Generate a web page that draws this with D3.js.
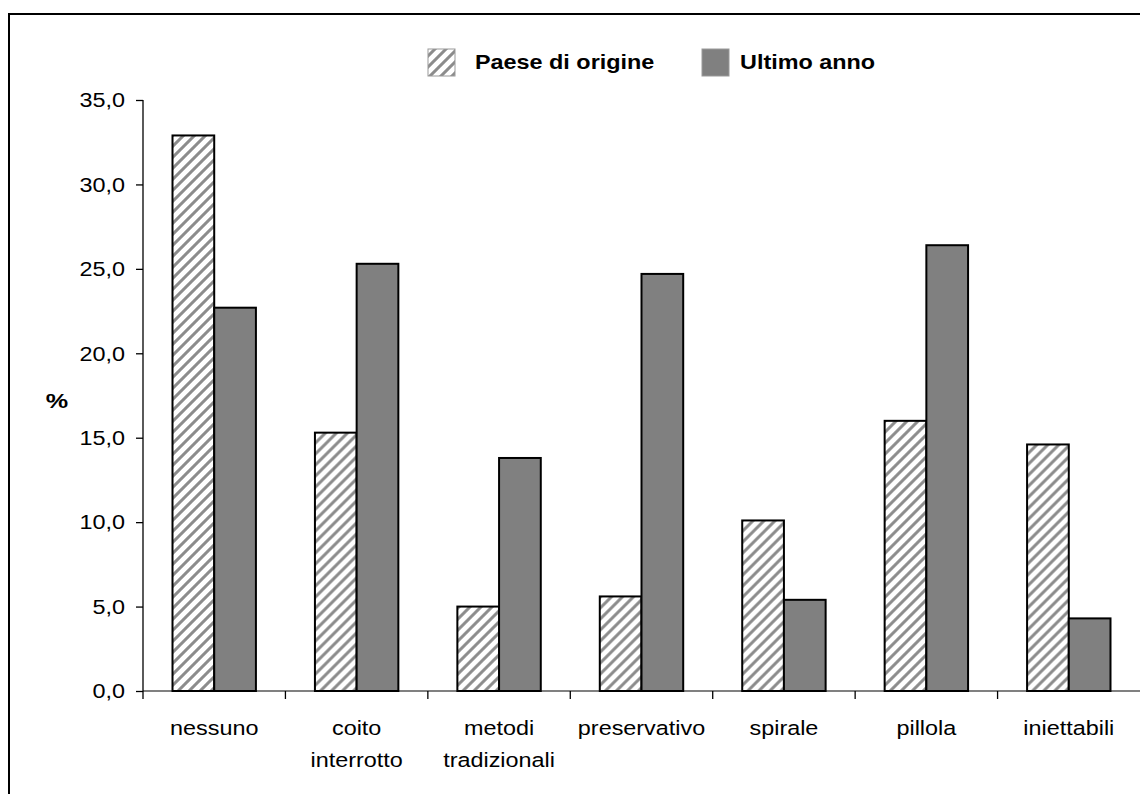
<!DOCTYPE html>
<html>
<head>
<meta charset="utf-8">
<script src="https://cdn.jsdelivr.net/npm/d3@7"></script>
<style>
  html, body { margin: 0; padding: 0; background: #fff; }
  svg { display: block; font-family: Arial, "Liberation Sans", sans-serif; }
</style>
</head>
<body>
<svg id="chart" width="1140" height="794"></svg>
<script>
// Contraccezione: metodo usato nel paese di origine e nell'ultimo anno (%)
const categories = ["nessuno", "coito interrotto", "metodi tradizionali", "preservativo", "spirale", "pillola", "iniettabili"];
const seriesNames = ["Paese di origine", "Ultimo anno"];
const paeseOrigine = [32.9, 15.3, 5.0, 5.6, 10.1, 16.0, 14.6];
const ultimoAnno = [22.7, 25.3, 13.8, 24.7, 5.4, 26.4, 4.3];
const yTicks = [0, 5, 10, 15, 20, 25, 30, 35];

const svg = d3.select("#chart");
const W = 1140, H = 794;
const plotLeft = 143, plotRight = 1140, plotTop = 100, plotBottom = 691;
const SX = 1.2;      // horizontal text stretch
const FS = 19.5;     // font size

const rows = categories.map((c, i) => ({ cat: c, values: [paeseOrigine[i], ultimoAnno[i]] }));

const x0 = d3.scaleBand().domain(categories).range([plotLeft, plotRight]).padding(0);
const x1 = d3.scaleBand().domain(seriesNames).range([0, x0.bandwidth()]).paddingInner(0).paddingOuter(0.7075);
const y = d3.scaleLinear().domain([0, 35]).range([plotBottom, plotTop]);

// hatch pattern (soft grey diagonal stripes)
const defs = svg.append("defs");
defs.append("filter").attr("id", "soft").attr("x", "-20%").attr("y", "-20%").attr("width", "140%").attr("height", "140%")
  .append("feGaussianBlur").attr("stdDeviation", 0.6);
const P = 11;
const pat = defs.append("pattern")
  .attr("id", "hatch").attr("patternUnits", "userSpaceOnUse")
  .attr("width", P).attr("height", P);
pat.append("rect").attr("width", P).attr("height", P).attr("fill", "#fff");
pat.append("path")
  .attr("d", `M${-P/4},${P/4} L${P/4},${-P/4} M0,${P} L${P},0 M${P*0.75},${P*1.25} L${P*1.25},${P*0.75}`)
  .attr("stroke", "#8c8c8c").attr("stroke-width", 3.1).attr("fill", "none")
  .attr("filter", "url(#soft)");
const fills = ["url(#hatch)", "#808080"];

// outer frame
svg.append("rect").attr("x", 9).attr("y", 14).attr("width", W + 20).attr("height", H + 20)
  .attr("fill", "none").attr("stroke", "#000").attr("stroke-width", 2);

function stretchedText(g, x, yy, str, anchor, weight, size) {
  return g.append("text")
    .attr("transform", `translate(${x},${yy}) scale(${SX},1)`)
    .attr("text-anchor", anchor)
    .attr("font-size", size || FS)
    .attr("font-weight", weight || "normal")
    .attr("fill", "#000")
    .text(str);
}

// x axis line
svg.append("line").attr("x1", plotLeft).attr("x2", plotRight).attr("y1", y(0)).attr("y2", y(0))
  .attr("stroke", "#808080").attr("stroke-width", 2);

// bars
const groups = svg.append("g").selectAll("g").data(rows).join("g")
  .attr("transform", d => `translate(${x0(d.cat)},0)`);
groups.selectAll("rect").data(d => d.values.map((v, k) => ({ v, k })))
  .join("rect")
  .attr("x", d => x1(seriesNames[d.k]))
  .attr("y", d => y(d.v))
  .attr("width", x1.bandwidth())
  .attr("height", d => y(0) - y(d.v))
  .attr("fill", d => fills[d.k])
  .attr("stroke", "#000").attr("stroke-width", 2);

// category ticks
const xTickPos = categories.slice(1).map(c => x0(c));
svg.append("g").selectAll("line").data(xTickPos).join("line")
  .attr("x1", d => d).attr("x2", d => d)
  .attr("y1", y(0)).attr("y2", y(0) + 8)
  .attr("stroke", "#000").attr("stroke-width", 1.3);

// category labels
const labG = svg.append("g");
rows.forEach(r => {
  const cx = x0(r.cat) + x0.bandwidth() / 2;
  r.cat.split(" ").forEach((line, li) => {
    stretchedText(labG, cx, 735 + li * 32, line, "middle");
  });
});

// y axis
const yAxis = d3.axisLeft(y).tickValues(yTicks).tickSize(7).tickSizeOuter(0)
  .tickFormat(d => d.toFixed(1).replace(".", ","));
const yg = svg.append("g").attr("transform", `translate(${plotLeft},0)`).call(yAxis);
yg.select(".domain").remove();
yg.selectAll(".tick line").attr("stroke", "#000").attr("stroke-width", 1.3);
yg.selectAll(".tick text")
  .attr("x", -18 / SX).attr("dy", "0.35em")
  .attr("transform", `scale(${SX},1)`)
  .attr("font-size", FS).attr("font-family", "Arial, 'Liberation Sans', sans-serif")
  .attr("fill", "#000");
svg.append("line").attr("x1", plotLeft).attr("x2", plotLeft).attr("y1", y(35)).attr("y2", y(0) + 8)
  .attr("stroke", "#000").attr("stroke-width", 1.3);

// axis title
stretchedText(svg, 57, 408, "%", "middle", "bold", 21);

// legend
const legend = svg.append("g");
const legX = [428, 702], legTextX = [475, 740];
seriesNames.forEach((name, k) => {
  legend.append("rect").attr("x", legX[k]).attr("y", 49).attr("width", 27).attr("height", 27)
    .attr("fill", fills[k]).attr("stroke", "#999").attr("stroke-width", 1);
  stretchedText(legend, legTextX[k], 69, name, "start", "bold");
});
</script>
</body>
</html>
